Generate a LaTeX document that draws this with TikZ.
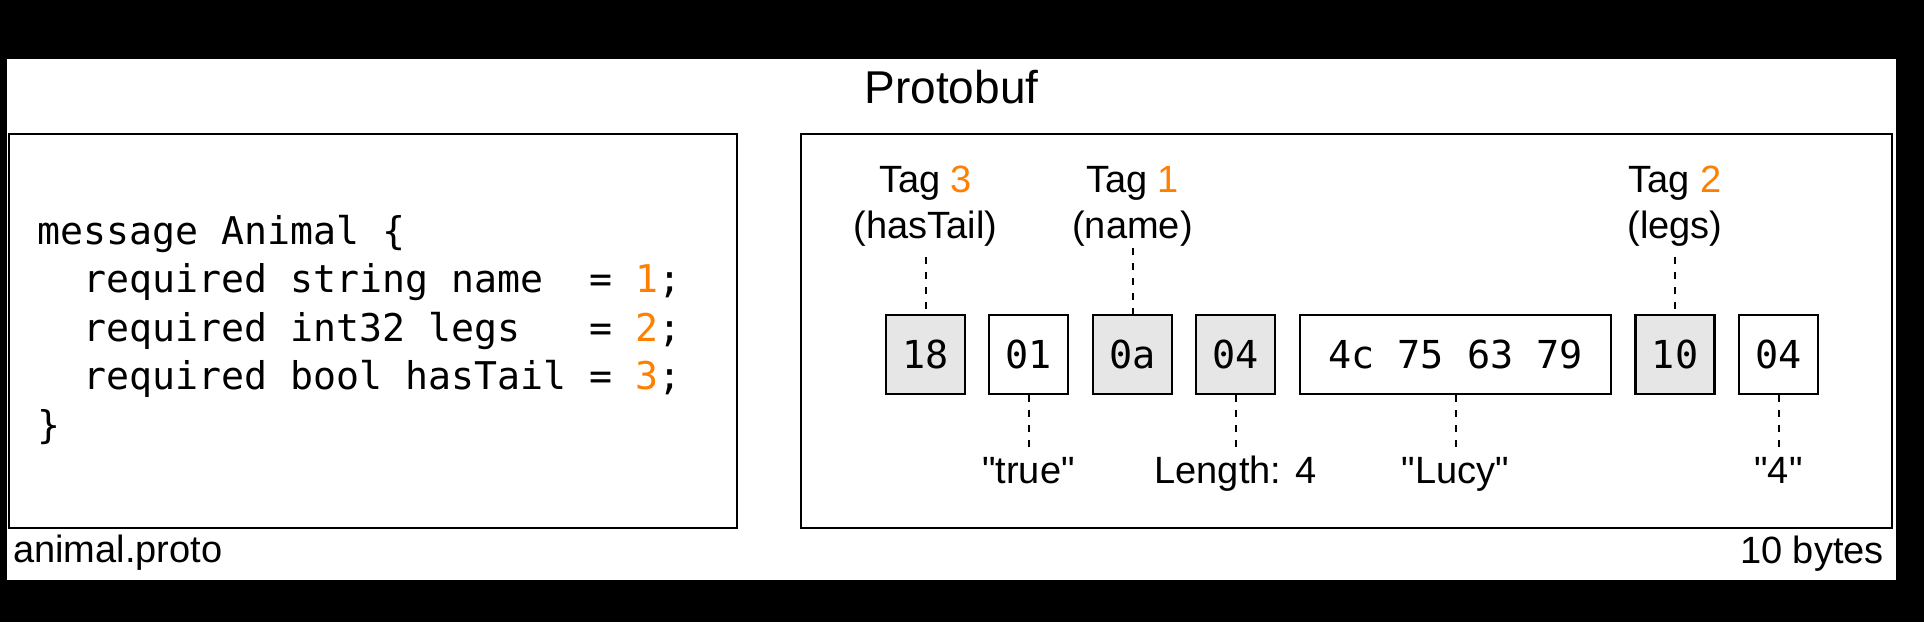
\documentclass[tikz,border=0pt]{standalone}
\usepackage{fontspec}
\setmainfont{Liberation Sans}
\newfontfamily\lblfont{Liberation Sans}
\newfontfamily\codefont{DejaVu Sans Mono}
\definecolor{ora}{HTML}{FF8000}
\definecolor{bytegray}{HTML}{E6E6E6}
\begin{document}
\begin{tikzpicture}[x=1pt,y=-1pt,
 panel/.style={draw=black, line width=2.5pt, fill=white, inner sep=0pt},
 bytebox/.style={draw=black, line width=2.7pt, minimum width=79pt, minimum height=79pt, inner sep=0pt, font=\codefont\fontsize{38.5}{46}\selectfont},
 tagbyte/.style={bytebox, fill=bytegray},
 valbyte/.style={bytebox, fill=white},
 lbl/.style={inner sep=0pt, anchor=base, font=\lblfont\fontsize{38}{46}\selectfont},
 codeline/.style={inner sep=0pt, anchor=base west, font=\codefont\fontsize{38.2}{46}\selectfont},
 guide/.style={draw=black, line width=2pt, dash pattern=on 7pt off 8pt}
]
\useasboundingbox (0,0) rectangle (1924,622);
\fill[black] (0,0) rectangle (1924,622);
\fill[white] (7,59) rectangle (1896,580);
\node[lbl, font=\lblfont\fontsize{46}{54}\selectfont] (title) at (951.5,103) {Protobuf};
% panels
\node[panel, minimum width=728pt, minimum height=394pt] (codebox) at (373,331) {};
\node[panel, minimum width=1091pt, minimum height=394pt] (bytesbox) at (1346.5,331) {};
\node[lbl, anchor=base west] (fname) at (13,562) {animal.proto};
\node[lbl, anchor=base east] (nbytes) at (1884,563) {10 bytes};
% code
\node[codeline] (l1) at (37,244) {message Animal \{};
\node[codeline] (l2) at (37,292.5) {~~required string name~~= \textcolor{ora}{1};};
\node[codeline] (l3) at (37,341) {~~required int32 legs~~~= \textcolor{ora}{2};};
\node[codeline] (l4) at (37,389.5) {~~required bool hasTail = \textcolor{ora}{3};};
\node[codeline] (l5) at (37,438) {\}};
% bytes
\node[tagbyte] (b1) at (925.5,354.5) {18};
\node[valbyte] (b2) at (1028.5,354.5) {01};
\node[tagbyte] (b3) at (1132.5,354.5) {0a};
\node[tagbyte] (b4) at (1235.5,354.5) {04};
\node[valbyte, minimum width=311pt] (b5) at (1455.5,354.5) {4c 75 63 79};
\node[tagbyte] (b6) at (1675,354.5) {10};
\node[valbyte] (b7) at (1778.5,354.5) {04};
% tag labels
\node[lbl] (t3a) at (925.5,192) {Tag \textcolor{ora}{3}};
\node[lbl] (t3b) at (925.5,238) {(hasTail)};
\coordinate (t3end) at (925.5,257);
\draw[guide] (t3end) -- (b1.north);
\node[lbl] (t1a) at (1132.5,192) {Tag \textcolor{ora}{1}};
\node[lbl] (t1b) at (1132.5,238) {(name)};
\coordinate (t1end) at (1132.5,248);
\draw[guide] (t1end) -- (b3.north);
\node[lbl] (t2a) at (1675,192) {Tag \textcolor{ora}{2}};
\node[lbl] (t2b) at (1675,238) {(legs)};
\coordinate (t2end) at (1675,257);
\draw[guide] (t2end) -- (b6.north);
% value labels
\coordinate (v2end) at (1028.5,450);
\draw[guide] (b2.south) -- (v2end);
\node[lbl] (v2) at (1028.5,483) {"true"};
\coordinate (v4end) at (1235.5,450);
\draw[guide] (b4.south) -- (v4end);
\node[lbl] (v4) at (1235.5,483) {Length: 4};
\coordinate (v5end) at (1455.5,450);
\draw[guide] (b5.south) -- (v5end);
\node[lbl] (v5) at (1455.5,483) {"Lucy"};
\coordinate (v7end) at (1778.5,450);
\draw[guide] (b7.south) -- (v7end);
\node[lbl] (v7) at (1778.5,483) {"4"};
\end{tikzpicture}
\end{document}
